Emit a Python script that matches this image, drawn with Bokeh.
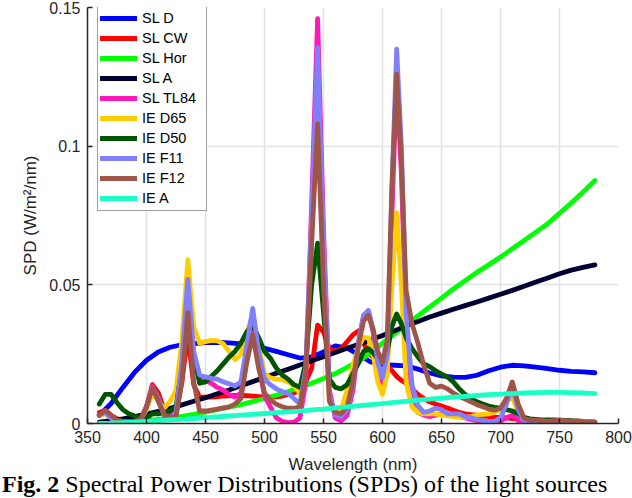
from bokeh.plotting import figure
from bokeh.models import Range1d, FixedTicker, Legend, LegendItem, Div
from bokeh.layouts import column
from bokeh.embed import file_html
from bokeh.resources import INLINE

# ---------------- data ----------------
wl_smooth = list(range(360, 781, 10))
wl_fine = list(range(360, 581, 5)) + [584, 588, 592, 596, 600, 604, 608, 612, 616, 620] + list(range(625, 781, 5))

sl_d = [0.0030, 0.0072, 0.0130, 0.0185, 0.0228, 0.0258, 0.0275, 0.0284, 0.0288, 0.0292,
        0.0293, 0.0291, 0.0287, 0.0281, 0.0271, 0.0260, 0.0248, 0.0236, 0.0240, 0.0258,
        0.0280, 0.0272, 0.0248, 0.0222, 0.0212, 0.0210, 0.0208, 0.0196, 0.0182, 0.0172,
        0.0167, 0.0166, 0.0174, 0.0190, 0.0203, 0.0210, 0.0208, 0.0203, 0.0198, 0.0192,
        0.0188, 0.0186, 0.0183]

sl_hor = [0.0000, 0.0001, 0.0003, 0.0006, 0.0010, 0.0015, 0.0020, 0.0026, 0.0033, 0.0041,
          0.0050, 0.0059, 0.0068, 0.0079, 0.0090, 0.0102, 0.0115, 0.0130, 0.0145, 0.0162,
          0.0180, 0.0202, 0.0225, 0.0255, 0.0290, 0.0322, 0.0355, 0.0388, 0.0420, 0.0452,
          0.0485, 0.0515, 0.0545, 0.0572, 0.0600, 0.0630, 0.0660, 0.0690, 0.0720, 0.0758,
          0.0795, 0.0835, 0.0876]

sl_a = [0.0005, 0.0010, 0.0017, 0.0025, 0.0034, 0.0044, 0.0055, 0.0067, 0.0080, 0.0093,
        0.0107, 0.0121, 0.0136, 0.0151, 0.0166, 0.0181, 0.0196, 0.0211, 0.0226, 0.0241,
        0.0256, 0.0271, 0.0286, 0.0302, 0.0317, 0.0334, 0.0352, 0.0368, 0.0384, 0.0398,
        0.0412, 0.0425, 0.0438, 0.0452, 0.0466, 0.0480, 0.0495, 0.0510, 0.0525, 0.0540,
        0.0553, 0.0563, 0.0572]

ie_a = [0.0000, 0.0001, 0.0003, 0.0005, 0.0008, 0.0010, 0.0013, 0.0015, 0.0018, 0.0021,
        0.0024, 0.0027, 0.0030, 0.0033, 0.0036, 0.0039, 0.0042, 0.0045, 0.0049, 0.0052,
        0.0056, 0.0060, 0.0064, 0.0068, 0.0072, 0.0076, 0.0080, 0.0084, 0.0088, 0.0091,
        0.0095, 0.0098, 0.0101, 0.0104, 0.0106, 0.0108, 0.0110, 0.0111, 0.0112, 0.0112,
        0.0111, 0.0110, 0.0108]

sl_cw = [0.0040, 0.0047, 0.0030, 0.0017, 0.0012, 0.0010, 0.0010, 0.0015, 0.0060, 0.0140,
         0.0110, 0.0050, 0.0030, 0.0040, 0.0150, 0.0320, 0.0140, 0.0095, 0.0095, 0.0095,
         0.0097, 0.0099, 0.0100, 0.0101, 0.0101, 0.0100, 0.0099, 0.0097, 0.0095, 0.0095,
         0.0096, 0.0099, 0.0105, 0.0110, 0.0125, 0.0150, 0.0200, 0.0355, 0.0330, 0.0270,
         0.0260, 0.0270, 0.0295, 0.0320, 0.0335,
         0.0290, 0.0255, 0.0240, 0.0233, 0.0220, 0.0208, 0.0190, 0.0170, 0.0155, 0.0145,
         0.0125, 0.0105, 0.0090, 0.0078, 0.0070, 0.0063, 0.0056, 0.0048, 0.0040, 0.0035,
         0.0032, 0.0030, 0.0027, 0.0025, 0.0023, 0.0022, 0.0020, 0.0018, 0.0016, 0.0013,
         0.0010, 0.0008, 0.0007, 0.0006, 0.0006, 0.0005, 0.0005, 0.0005, 0.0005, 0.0005,
         0.0005, 0.0005]

sl_tl84 = [0.0030, 0.0040, 0.0020, 0.0005, 0.0003, 0.0003, 0.0003, 0.0010, 0.0060, 0.0135,
           0.0090, 0.0030, 0.0020, 0.0030, 0.0200, 0.0460, 0.0220, 0.0160, 0.0155, 0.0145,
           0.0130, 0.0120, 0.0105, 0.0095, 0.0110, 0.0250, 0.0380, 0.0220, 0.0100, 0.0060,
           0.0020, 0.0008, 0.0003, 0.0005, 0.0020, 0.0150, 0.0800, 0.1460, 0.0700, 0.0120,
           0.0020, 0.0010, 0.0030, 0.0120, 0.0300,
           0.0390, 0.0407, 0.0330, 0.0200, 0.0130, 0.0200, 0.0750, 0.1250, 0.0900, 0.0350,
           0.0100, 0.0040, 0.0030, 0.0025, 0.0030, 0.0035, 0.0035, 0.0030, 0.0025, 0.0020,
           0.0015, 0.0010, 0.0007, 0.0005, 0.0005, 0.0008, 0.0020, 0.0030, 0.0010, 0.0004,
           0.0003, 0.0003, 0.0003, 0.0003, 0.0003, 0.0003, 0.0003, 0.0003, 0.0003, 0.0003,
           0.0003, 0.0003]

ie_d65 = [0.0030, 0.0035, 0.0020, 0.0010, 0.0008, 0.0008, 0.0008, 0.0015, 0.0050, 0.0110,
          0.0080, 0.0055, 0.0080, 0.0120, 0.0300, 0.0590, 0.0350, 0.0290, 0.0295, 0.0300,
          0.0298, 0.0288, 0.0260, 0.0230, 0.0250, 0.0330, 0.0390, 0.0280, 0.0180, 0.0165,
          0.0160, 0.0158, 0.0150, 0.0135, 0.0110, 0.0200, 0.0700, 0.1120, 0.0600, 0.0080,
          0.0040, 0.0050, 0.0120, 0.0210, 0.0280,
          0.0310, 0.0310, 0.0250, 0.0150, 0.0105, 0.0180, 0.0500, 0.0760, 0.0500, 0.0150,
          0.0060, 0.0040, 0.0035, 0.0035, 0.0035, 0.0030, 0.0028, 0.0025, 0.0023, 0.0022,
          0.0025, 0.0030, 0.0033, 0.0035, 0.0040, 0.0050, 0.0080, 0.0095, 0.0040, 0.0010,
          0.0005, 0.0005, 0.0005, 0.0005, 0.0005, 0.0005, 0.0005, 0.0005, 0.0005, 0.0005,
          0.0005, 0.0005]

ie_d50 = [0.0070, 0.0105, 0.0105, 0.0075, 0.0050, 0.0035, 0.0027, 0.0020, 0.0020, 0.0035,
          0.0035, 0.0040, 0.0045, 0.0060, 0.0200, 0.0440, 0.0250, 0.0145, 0.0150, 0.0170,
          0.0190, 0.0215, 0.0240, 0.0260, 0.0290, 0.0330, 0.0355, 0.0310, 0.0260, 0.0235,
          0.0200, 0.0175, 0.0160, 0.0140, 0.0130, 0.0220, 0.0500, 0.0650, 0.0400, 0.0160,
          0.0130, 0.0125, 0.0140, 0.0180, 0.0220,
          0.0260, 0.0270, 0.0255, 0.0235, 0.0225, 0.0260, 0.0350, 0.0395, 0.0360, 0.0310,
          0.0270, 0.0240, 0.0215, 0.0205, 0.0190, 0.0178, 0.0168, 0.0150, 0.0125, 0.0105,
          0.0090, 0.0078, 0.0070, 0.0063, 0.0058, 0.0055, 0.0050, 0.0045, 0.0035, 0.0022,
          0.0017, 0.0015, 0.0013, 0.0013, 0.0013, 0.0012, 0.0011, 0.0010, 0.0008, 0.0005,
          0.0003, 0.0002]

ie_f11 = [0.0030, 0.0040, 0.0020, 0.0005, 0.0003, 0.0003, 0.0003, 0.0010, 0.0060, 0.0130,
          0.0090, 0.0030, 0.0020, 0.0040, 0.0220, 0.0520, 0.0260, 0.0175, 0.0168, 0.0163,
          0.0160, 0.0150, 0.0143, 0.0135, 0.0150, 0.0280, 0.0415, 0.0260, 0.0160, 0.0140,
          0.0125, 0.0115, 0.0108, 0.0090, 0.0070, 0.0200, 0.0750, 0.1355, 0.0650, 0.0100,
          0.0030, 0.0025, 0.0050, 0.0140, 0.0300,
          0.0390, 0.0407, 0.0340, 0.0220, 0.0165, 0.0250, 0.0850, 0.1350, 0.1000, 0.0400,
          0.0140, 0.0065, 0.0040, 0.0045, 0.0055, 0.0050, 0.0035, 0.0035, 0.0035, 0.0025,
          0.0020, 0.0015, 0.0010, 0.0008, 0.0008, 0.0020, 0.0070, 0.0130, 0.0050, 0.0010,
          0.0003, 0.0003, 0.0003, 0.0003, 0.0003, 0.0003, 0.0003, 0.0003, 0.0003, 0.0003,
          0.0003, 0.0003]

ie_f12 = [0.0030, 0.0047, 0.0030, 0.0012, 0.0008, 0.0008, 0.0008, 0.0015, 0.0060, 0.0130,
          0.0080, 0.0030, 0.0022, 0.0025, 0.0150, 0.0400, 0.0150, 0.0045, 0.0045, 0.0048,
          0.0052, 0.0056, 0.0060, 0.0070, 0.0090, 0.0220, 0.0320, 0.0200, 0.0110, 0.0085,
          0.0070, 0.0060, 0.0055, 0.0055, 0.0060, 0.0180, 0.0650, 0.1080, 0.0500, 0.0080,
          0.0040, 0.0035, 0.0060, 0.0150, 0.0290,
          0.0370, 0.0390, 0.0340, 0.0260, 0.0220, 0.0300, 0.0850, 0.1260, 0.0950, 0.0480,
          0.0360, 0.0290, 0.0210, 0.0145, 0.0130, 0.0135, 0.0125, 0.0110, 0.0098, 0.0088,
          0.0078, 0.0068, 0.0060, 0.0052, 0.0048, 0.0055, 0.0090, 0.0150, 0.0070, 0.0020,
          0.0012, 0.0012, 0.0010, 0.0008, 0.0010, 0.0012, 0.0010, 0.0008, 0.0010, 0.0008,
          0.0007, 0.0006]

series_names = ["SL D", "SL CW", "SL Hor", "SL A", "SL TL84",
                "IE D65", "IE D50", "IE F11", "IE F12", "IE A"]
series_x = [wl_smooth, wl_fine, wl_smooth, wl_smooth, wl_fine,
            wl_fine, wl_fine, wl_fine, wl_fine, wl_smooth]
series_y = [sl_d, sl_cw, sl_hor, sl_a, sl_tl84, ie_d65, ie_d50, ie_f11, ie_f12, ie_a]
series_colors = ["#0000FF", "#FF0000", "#00FF00", "#000033", "#FF1AB8",
                 "#FFCC00", "#005500", "#8080FF", "#A0554A", "#1AFFC6"]

x_ticks = [350, 400, 450, 500, 550, 600, 650, 700, 750, 800]
y_ticks = [0, 0.05, 0.1, 0.15]
y_tick_labels = ["0", "0.05", "0.1", "0.15"]

x_label = "Wavelength (nm)"
y_label = "SPD (W/m\u00b2/nm)"
caption_bold = "Fig. 2"
caption_rest = "Spectral Power Distributions (SPDs) of the light sources"

# ---------------- figure ----------------
AX = "#262626"
p = figure(width=632, height=477, x_range=Range1d(350, 800), y_range=Range1d(0, 0.15),
           output_backend="svg", toolbar_location=None,
           min_border_left=87, min_border_right=14, min_border_top=7, min_border_bottom=54)
p.outline_line_color = None
p.background_fill_color = "white"
p.border_fill_color = "white"

for g in (p.xgrid, p.ygrid):
    g.grid_line_color = "#E2E2E2"
    g.grid_line_width = 1.5
p.xgrid.ticker = FixedTicker(ticks=x_ticks)
p.ygrid.ticker = FixedTicker(ticks=y_ticks)

p.xaxis.ticker = FixedTicker(ticks=x_ticks)
p.yaxis.ticker = FixedTicker(ticks=y_ticks)
p.yaxis.major_label_overrides = {t: s for t, s in zip(y_ticks, y_tick_labels)}
for ax in (p.xaxis, p.yaxis):
    ax.axis_line_color = AX
    ax.axis_line_width = 1.5
    ax.major_tick_line_color = AX
    ax.major_tick_line_width = 1.5
    ax.major_tick_in = 5
    ax.major_tick_out = 0
    ax.minor_tick_line_color = None
    ax.major_label_text_font = "Liberation Sans"
    ax.major_label_text_font_size = "16px"
    ax.major_label_text_color = AX
    ax.major_label_standoff = 7
    ax.axis_label_text_font = "Liberation Sans"
    ax.axis_label_text_font_size = "17px"
    ax.axis_label_text_font_style = "normal"
    ax.axis_label_text_color = AX
p.xaxis.axis_label = x_label
p.yaxis.axis_label = y_label
p.xaxis.axis_label_standoff = 9
p.yaxis.axis_label_standoff = 6

renderers = []
for xs, ys, c in zip(series_x, series_y, series_colors):
    r = p.line(xs, ys, line_color=c, line_width=4.8, line_join="round", line_cap="round")
    renderers.append(r)

legend = Legend(items=[LegendItem(label=n, renderers=[r]) for n, r in zip(series_names, renderers)],
                location=(10, 212), orientation="vertical",
                padding=2, spacing=0, margin=0,
                glyph_width=37, glyph_height=20, label_height=20, label_width=62,
                label_standoff=5,
                label_text_font="Liberation Sans", label_text_font_size="14.5px",
                label_text_color="#000000",
                border_line_color="#404040", border_line_width=1,
                background_fill_color="white", background_fill_alpha=1.0)
p.add_layout(legend)

caption = Div(text="<b>" + caption_bold + "</b> " + caption_rest,
              width=630, height=21, margin=(0, 0, 0, 2),
              styles={"font-family": "'Liberation Serif', 'Times New Roman', serif",
                      "font-size": "24px", "line-height": "14px",
                      "white-space": "nowrap", "color": "#000000"})

layout = column(p, caption, spacing=0)
open("out.html", "w").write(file_html(layout, INLINE))
